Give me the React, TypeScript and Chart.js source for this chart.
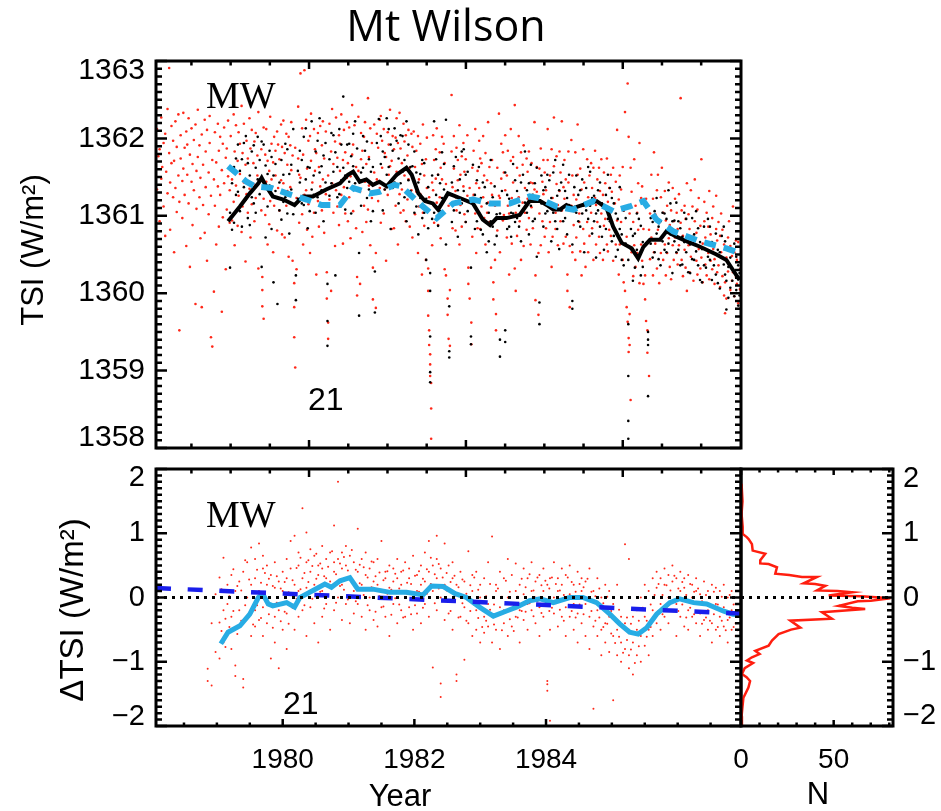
import React, { useEffect, useRef } from 'react';
import { Chart, registerables } from 'chart.js';

Chart.register(...registerables);

// ---------- axis ranges & tick labels ----------
const X_MIN = 1978.075;
const X_MAX = 1986.962;
const TSI_MIN = 1358;
const TSI_MAX = 1363;
const D_MIN = -2;
const D_MAX = 2;
const N_MIN = 0;
const N_MAX = 82;

const yearTicks = [1980, 1982, 1984];
const tsiTicks = [1358, 1359, 1360, 1361, 1362, 1363];
const dTicks = [-2, -1, 0, 1, 2];
const nTicks = [0, 50];
const topPanelXMajor = [1980.4, 1982.783, 1985.166];

// ---------- top panel: running means [year, TSI] ----------
const topBlackLine = [
  [1979.17, 1360.93], [1979.35, 1361.12], [1979.5, 1361.29], [1979.63, 1361.42], [1979.68, 1361.49],
  [1979.75, 1361.38], [1979.85, 1361.25], [1980.01, 1361.21], [1980.18, 1361.14], [1980.31, 1361.25],
  [1980.46, 1361.25], [1980.66, 1361.34], [1980.87, 1361.42], [1980.99, 1361.53], [1981.07, 1361.57],
  [1981.17, 1361.44], [1981.27, 1361.47], [1981.37, 1361.4], [1981.47, 1361.44], [1981.58, 1361.38],
  [1981.73, 1361.53], [1981.88, 1361.62], [1981.96, 1361.53], [1982.06, 1361.29], [1982.16, 1361.19],
  [1982.28, 1361.16], [1982.36, 1361.08], [1982.44, 1361.19], [1982.51, 1361.29], [1982.69, 1361.23],
  [1982.89, 1361.16], [1983.04, 1360.95], [1983.15, 1360.88], [1983.25, 1360.97], [1983.4, 1360.97],
  [1983.6, 1361.01], [1983.75, 1361.19], [1983.91, 1361.19], [1984.01, 1361.14], [1984.11, 1361.08],
  [1984.21, 1361.08], [1984.31, 1361.14], [1984.41, 1361.1], [1984.56, 1361.14], [1984.77, 1361.19],
  [1984.92, 1361.1], [1985.02, 1360.86], [1985.15, 1360.65], [1985.3, 1360.58], [1985.4, 1360.45],
  [1985.48, 1360.6], [1985.58, 1360.69], [1985.73, 1360.69], [1985.83, 1360.8], [1985.98, 1360.73],
  [1986.14, 1360.67], [1986.34, 1360.6], [1986.59, 1360.5], [1986.74, 1360.43], [1986.84, 1360.3],
  [1986.94, 1360.17],
];

const topCyanLine = [
  [1979.17, 1361.64], [1979.27, 1361.57], [1979.45, 1361.44], [1979.58, 1361.38], [1979.83, 1361.36],
  [1980.06, 1361.29], [1980.36, 1361.21], [1980.59, 1361.14], [1980.87, 1361.14], [1981.07, 1361.36],
  [1981.32, 1361.29], [1981.47, 1361.31], [1981.7, 1361.4], [1981.8, 1361.38], [1982.13, 1361.12],
  [1982.34, 1360.97], [1982.59, 1361.16], [1982.89, 1361.21], [1983.15, 1361.16], [1983.45, 1361.16],
  [1983.75, 1361.25], [1983.88, 1361.23], [1984.16, 1361.12], [1984.41, 1361.08], [1984.72, 1361.19],
  [1985.02, 1361.06], [1985.27, 1361.12], [1985.48, 1361.19], [1985.68, 1360.95], [1985.93, 1360.8],
  [1986.34, 1360.67], [1986.74, 1360.58], [1986.94, 1360.52],
];

// ---------- top panel: daily values, rows = [year, values...] ----------
const topRedRows = [
  [1978.09, 1361.34, 1362.12], [1978.11, 1361.77], [1978.13, 1361.86, 1360.93], [1978.155, 1362.27, 1361.48],
  [1978.17, 1361.63], [1978.19, 1361.12, 1361.94], [1978.215, 1362.06, 1360.74], [1978.23, 1361.57],
  [1978.25, 1362.38, 1361.29], [1978.275, 1361.81, 1362.91], [1978.29, 1361.43, 1360.82], [1978.31, 1362.16, 1361.68],
  [1978.335, 1361.24, 1361.97], [1978.35, 1360.53, 1361.71], [1978.37, 1362.22, 1361.36], [1978.39, 1361.89, 1361.05],
  [1978.415, 1361.52, 1362.31], [1978.43, 1359.52, 1361.18], [1978.45, 1361.74, 1362.04], [1978.475, 1360.97, 1361.45],
  [1978.49, 1362.33, 1361.61], [1978.51, 1361.27, 1361.88], [1978.535, 1360.61, 1362.09], [1978.55, 1361.53, 1361.92],
  [1978.57, 1361.16, 1362.26], [1978.59, 1361.79, 1360.34], [1978.615, 1362.13, 1361.44], [1978.63, 1360.88, 1361.67],
  [1978.65, 1361.98, 1361.33], [1978.675, 1359.86, 1362.18], [1978.69, 1361.58, 1361.09], [1978.71, 1362.37, 1361.76],
  [1978.735, 1361.24, 1361.91], [1978.75, 1360.71, 1361.49], [1978.77, 1362.05, 1359.82], [1978.79, 1361.66, 1361.14],
  [1978.815, 1362.24, 1360.78], [1978.83, 1361.37, 1361.83], [1978.85, 1360.42, 1362.11], [1978.875, 1361.56, 1361.02],
  [1978.89, 1361.94, 1362.29], [1978.91, 1359.43, 1361.26], [1978.93, 1359.31, 1361.72], [1978.955, 1360.02, 1361.47],
  [1978.97, 1362.08, 1361.13], [1978.99, 1361.69, 1360.63], [1979.015, 1362.19, 1361.38], [1979.03, 1361.84, 1360.86],
  [1979.05, 1361.27, 1362.02], [1979.075, 1359.76, 1361.59], [1979.09, 1361.93, 1360.98], [1979.11, 1361.42, 1362.14],
  [1979.135, 1361.75, 1360.31], [1979.15, 1361.08, 1361.87], [1979.17, 1362.23, 1361.51], [1979.195, 1361.33, 1360.91],
  [1979.21, 1361.62, 1362.03], [1979.23, 1360.94, 1361.47], [1979.255, 1362.31, 1361.18], [1979.27, 1361.83, 1360.62],
  [1979.29, 1361.39, 1362.17], [1979.315, 1361.71, 1360.87], [1979.33, 1362.08, 1361.26], [1979.35, 1361.54, 1361.93],
  [1979.375, 1360.79, 1362.42], [1979.39, 1361.81, 1361.12], [1979.41, 1362.19, 1361.43], [1979.435, 1360.41, 1361.66],
  [1979.45, 1361.97, 1361.28], [1979.47, 1361.04, 1361.74], [1979.495, 1362.26, 1361.35], [1979.51, 1361.87, 1360.72],
  [1979.53, 1361.15, 1362.11], [1979.555, 1361.68, 1361.41], [1979.57, 1360.93, 1361.96], [1979.59, 1361.23, 1362.07],
  [1979.615, 1361.78, 1361.52], [1979.63, 1362.34, 1360.32], [1979.65, 1361.46, 1362.61], [1979.675, 1361.07, 1361.86],
  [1979.69, 1360.21, 1360.04, 1359.83], [1979.71, 1359.67, 1361.22, 1362.14], [1979.735, 1361.79, 1361.01],
  [1979.75, 1362.12, 1361.44], [1979.77, 1360.63, 1361.71], [1979.795, 1361.58, 1360.89], [1979.81, 1362.28, 1361.19],
  [1979.83, 1361.93, 1361.47], [1979.855, 1360.53, 1361.69], [1979.87, 1361.13, 1362.02], [1979.89, 1361.52, 1361.84],
  [1979.915, 1362.09, 1360.81], [1979.93, 1361.36, 1361.92], [1979.95, 1361.73, 1361.07], [1979.975, 1362.18, 1361.46],
  [1979.99, 1360.76, 1361.89], [1980.01, 1361.42, 1362.23], [1980.03, 1361.81, 1360.72], [1980.055, 1361.13, 1362.06],
  [1980.07, 1361.66, 1361.32], [1980.09, 1362.02, 1360.47], [1980.115, 1361.37, 1361.91], [1980.13, 1361.59, 1362.21],
  [1980.15, 1360.42, 1361.78], [1980.175, 1360.13, 1359.82, 1359.43], [1980.19, 1361.88, 1359.04], [1980.21, 1360.31, 1361.23],
  [1980.235, 1361.74, 1362.41], [1980.25, 1360.91, 1361.53], [1980.27, 1362.84, 1361.49], [1980.295, 1361.02, 1362.13],
  [1980.31, 1361.79, 1360.63], [1980.33, 1362.88, 1361.27], [1980.355, 1361.33, 1362.24], [1980.37, 1360.82, 1361.61],
  [1980.39, 1361.97, 1361.15], [1980.415, 1362.03, 1360.52], [1980.43, 1361.71, 1362.32], [1980.45, 1361.43, 1360.73],
  [1980.475, 1362.12, 1361.04], [1980.49, 1361.58, 1361.86], [1980.51, 1360.24, 1361.81], [1980.535, 1361.19, 1362.07],
  [1980.55, 1361.63, 1360.86], [1980.57, 1362.16, 1361.38], [1980.595, 1361.91, 1361.07], [1980.61, 1361.47, 1362.22],
  [1980.63, 1360.78, 1361.74], [1980.655, 1362.09, 1361.28], [1980.67, 1360.27, 1359.93], [1980.69, 1359.62, 1359.41, 1361.52],
  [1980.71, 1361.21, 1362.19], [1980.735, 1360.03, 1361.83], [1980.75, 1362.38, 1361.42], [1980.77, 1361.04, 1361.67],
  [1980.795, 1361.96, 1360.61], [1980.81, 1361.33, 1362.27], [1980.83, 1361.75, 1361.12], [1980.855, 1362.04, 1360.88],
  [1980.87, 1361.58, 1361.93], [1980.89, 1361.27, 1362.31], [1980.915, 1360.64, 1361.72], [1980.93, 1362.11, 1361.37],
  [1980.95, 1361.82, 1361.03], [1980.975, 1361.49, 1362.21], [1980.99, 1360.93, 1361.68], [1981.01, 1362.14, 1361.24],
  [1981.03, 1361.51, 1360.71], [1981.055, 1362.43, 1361.79], [1981.07, 1361.92, 1361.06], [1981.09, 1361.35, 1362.17],
  [1981.115, 1361.63, 1360.84], [1981.13, 1360.21, 1359.97], [1981.15, 1361.58, 1362.28], [1981.175, 1360.12, 1361.31],
  [1981.19, 1362.07, 1361.73], [1981.21, 1361.84, 1360.79], [1981.235, 1361.13, 1362.02], [1981.25, 1362.21, 1361.44],
  [1981.27, 1361.67, 1360.92], [1981.295, 1362.52, 1361.08], [1981.31, 1361.76, 1361.39], [1981.33, 1360.62, 1362.13],
  [1981.355, 1361.94, 1361.23], [1981.37, 1360.33, 1359.92], [1981.39, 1362.18, 1361.56], [1981.415, 1359.81, 1360.52],
  [1981.43, 1361.47, 1362.06], [1981.45, 1361.88, 1361.19], [1981.475, 1361.36, 1362.24], [1981.49, 1362.29, 1360.91],
  [1981.51, 1361.62, 1361.97], [1981.535, 1361.03, 1362.12], [1981.55, 1361.81, 1361.34], [1981.57, 1360.42, 1361.76],
  [1981.595, 1362.08, 1361.27], [1981.61, 1361.53, 1361.92], [1981.63, 1362.37, 1361.64], [1981.655, 1361.71, 1360.83],
  [1981.67, 1361.46, 1362.03], [1981.69, 1360.84, 1361.86], [1981.715, 1362.01, 1361.13], [1981.73, 1361.57, 1362.26],
  [1981.75, 1361.94, 1360.63], [1981.775, 1361.28, 1362.33], [1981.79, 1361.87, 1361.04], [1981.81, 1361.34, 1361.68],
  [1981.835, 1362.19, 1361.07], [1981.85, 1361.52, 1361.96], [1981.87, 1360.93, 1362.04], [1981.895, 1361.78, 1361.21],
  [1981.91, 1362.11, 1361.47], [1981.93, 1361.62, 1360.86], [1981.955, 1362.06, 1361.33], [1981.97, 1360.72, 1361.89],
  [1981.99, 1361.46, 1362.09], [1982.01, 1361.63, 1361.02], [1982.03, 1361.31, 1361.84], [1982.055, 1362.03, 1360.52],
  [1982.07, 1361.47, 1361.12], [1982.09, 1361.28, 1361.93], [1982.115, 1360.24, 1361.67], [1982.13, 1361.04, 1362.18],
  [1982.15, 1361.52, 1360.87], [1982.175, 1360.43, 1361.73], [1982.19, 1361.36, 1362.01], [1982.21, 1360.32, 1360.03, 1359.71],
  [1982.225, 1359.52, 1359.33, 1361.24], [1982.24, 1359.21, 1359.08, 1358.93], [1982.255, 1358.84, 1358.51, 1358.12],
  [1982.27, 1360.62, 1361.43], [1982.285, 1362.04, 1361.33], [1982.3, 1361.72, 1360.91], [1982.325, 1361.48, 1361.86],
  [1982.34, 1362.13, 1361.17], [1982.36, 1360.88, 1361.53], [1982.385, 1361.24, 1361.82], [1982.4, 1360.71, 1361.62],
  [1982.42, 1362.02, 1361.47], [1982.445, 1361.93, 1361.03], [1982.46, 1360.31, 1361.68], [1982.48, 1360.23, 1361.41],
  [1982.505, 1359.93, 1359.72], [1982.52, 1359.41, 1361.13], [1982.54, 1359.32, 1360.04], [1982.565, 1361.83, 1362.56],
  [1982.58, 1361.37, 1360.84], [1982.6, 1361.61, 1362.03], [1982.625, 1361.32, 1360.81], [1982.64, 1361.88, 1361.07],
  [1982.66, 1361.46, 1361.72], [1982.685, 1362.17, 1360.63], [1982.7, 1361.53, 1361.14], [1982.72, 1360.86, 1361.77],
  [1982.745, 1361.38, 1361.94], [1982.76, 1361.02, 1361.57], [1982.78, 1360.92, 1361.73], [1982.805, 1362.04, 1361.26],
  [1982.82, 1360.33, 1360.12], [1982.84, 1359.93, 1361.36], [1982.865, 1359.62, 1359.34], [1982.88, 1360.73, 1361.62],
  [1982.9, 1361.27, 1361.84], [1982.925, 1362.12, 1361.03], [1982.94, 1361.42, 1360.52], [1982.96, 1360.84, 1361.58],
  [1982.985, 1361.36, 1361.97], [1983.0, 1361.74, 1360.83], [1983.02, 1361.12, 1361.68], [1983.045, 1362.03, 1361.24],
  [1983.06, 1361.52, 1360.97], [1983.08, 1360.63, 1361.81], [1983.105, 1361.04, 1361.46], [1983.12, 1362.21, 1361.17],
  [1983.14, 1360.92, 1361.63], [1983.165, 1360.33, 1361.42], [1983.18, 1361.27, 1361.72], [1983.2, 1360.14, 1359.92],
  [1983.225, 1361.13, 1360.43], [1983.24, 1359.73, 1359.52], [1983.26, 1361.62, 1360.81], [1983.285, 1362.32, 1361.26],
  [1983.3, 1361.23, 1360.53], [1983.32, 1361.48, 1361.93], [1983.345, 1361.82, 1360.94], [1983.36, 1361.01, 1361.56],
  [1983.38, 1362.04, 1361.33], [1983.405, 1360.72, 1361.52], [1983.42, 1361.13, 1361.84], [1983.44, 1361.03, 1360.24],
  [1983.465, 1361.71, 1362.12], [1983.48, 1360.64, 1361.23], [1983.5, 1361.43, 1361.76], [1983.525, 1362.43, 1360.32],
  [1983.54, 1360.03, 1361.04], [1983.56, 1361.62, 1360.74], [1983.585, 1362.03, 1361.24], [1983.6, 1360.93, 1361.52],
  [1983.62, 1361.82, 1360.43], [1983.645, 1361.17, 1361.66], [1983.66, 1360.61, 1361.91], [1983.68, 1361.36, 1361.04],
  [1983.705, 1361.74, 1360.82], [1983.72, 1361.22, 1361.57], [1983.74, 1360.97, 1361.83], [1983.765, 1361.43, 1360.63],
  [1983.78, 1361.68, 1361.11], [1983.8, 1360.84, 1361.42], [1983.825, 1362.21, 1361.34], [1983.84, 1360.23, 1359.91],
  [1983.86, 1361.31, 1361.63], [1983.885, 1359.72, 1360.52], [1983.9, 1361.03, 1361.61], [1983.92, 1360.62, 1361.87],
  [1983.945, 1361.44, 1360.93], [1983.96, 1361.28, 1361.72], [1983.98, 1360.73, 1361.56], [1984.0, 1361.33, 1360.84],
  [1984.025, 1361.72, 1362.12], [1984.04, 1360.53, 1361.13], [1984.06, 1361.52, 1360.92], [1984.085, 1361.86, 1360.34],
  [1984.1, 1361.23, 1360.73], [1984.12, 1361.64, 1362.27], [1984.145, 1360.83, 1361.04], [1984.16, 1361.41, 1361.77],
  [1984.18, 1361.14, 1360.62], [1984.205, 1361.83, 1361.32], [1984.22, 1360.93, 1361.56], [1984.24, 1362.22, 1361.07],
  [1984.265, 1361.37, 1360.64], [1984.28, 1361.72, 1361.22], [1984.3, 1360.73, 1361.47], [1984.325, 1360.24, 1360.03],
  [1984.34, 1361.43, 1361.83], [1984.36, 1359.82, 1360.61], [1984.385, 1361.13, 1361.98], [1984.4, 1360.53, 1361.52],
  [1984.42, 1361.27, 1360.88], [1984.445, 1361.82, 1360.43], [1984.46, 1360.72, 1361.21], [1984.48, 1362.18, 1361.53],
  [1984.505, 1360.92, 1361.03], [1984.52, 1361.61, 1360.54], [1984.54, 1360.23, 1361.34], [1984.565, 1361.86, 1360.83],
  [1984.58, 1360.64, 1361.43], [1984.6, 1361.14, 1360.34], [1984.625, 1361.73, 1360.92], [1984.64, 1360.53, 1361.24],
  [1984.66, 1361.52, 1360.74], [1984.685, 1361.04, 1361.68], [1984.7, 1360.84, 1361.36], [1984.72, 1361.62, 1360.43],
  [1984.745, 1361.23, 1361.84], [1984.76, 1360.63, 1361.14], [1984.78, 1361.47, 1360.92], [1984.805, 1360.73, 1361.62],
  [1984.82, 1361.32, 1360.52], [1984.84, 1361.03, 1361.73], [1984.865, 1360.43, 1361.27], [1984.88, 1361.56, 1360.87],
  [1984.9, 1360.96, 1361.42], [1984.925, 1361.74, 1360.63], [1984.94, 1360.54, 1361.18], [1984.96, 1361.36, 1360.82],
  [1984.985, 1360.74, 1361.53], [1985.0, 1360.93, 1361.31], [1985.02, 1361.62, 1360.42], [1985.045, 1360.82, 1361.16],
  [1985.06, 1361.44, 1360.63], [1985.08, 1362.11, 1360.94], [1985.105, 1361.21, 1360.24], [1985.12, 1360.63, 1361.52],
  [1985.14, 1360.92, 1361.34], [1985.165, 1361.63, 1360.43], [1985.18, 1360.14, 1361.07], [1985.2, 1362.34, 1360.03],
  [1985.225, 1359.82, 1360.73], [1985.24, 1362.71, 1359.63], [1985.255, 1362.02, 1359.42, 1359.24],
  [1985.27, 1359.33, 1359.73, 1361.03], [1985.285, 1361.62, 1358.62], [1985.3, 1360.53, 1361.31], [1985.325, 1360.92, 1360.22],
  [1985.34, 1361.73, 1360.62], [1985.36, 1360.34, 1361.13], [1985.385, 1361.04, 1360.52], [1985.4, 1360.82, 1361.42],
  [1985.42, 1361.94, 1360.13], [1985.445, 1360.63, 1361.23], [1985.46, 1361.38, 1360.42], [1985.48, 1360.12, 1360.83],
  [1985.505, 1360.23, 1359.92], [1985.52, 1359.64, 1361.22], [1985.54, 1359.52, 1359.23], [1985.565, 1358.93, 1360.82],
  [1985.58, 1361.03, 1360.44], [1985.6, 1360.72, 1361.53], [1985.625, 1361.22, 1360.23], [1985.64, 1360.53, 1361.82],
  [1985.66, 1361.02, 1360.64], [1985.685, 1360.32, 1361.33], [1985.7, 1361.53, 1360.82], [1985.72, 1360.91, 1360.13],
  [1985.745, 1361.24, 1360.52], [1985.76, 1360.72, 1361.62], [1985.78, 1360.43, 1361.04], [1985.805, 1361.32, 1360.63],
  [1985.82, 1360.23, 1360.94], [1985.84, 1361.13, 1360.52], [1985.865, 1360.71, 1361.43], [1985.88, 1360.34, 1360.88],
  [1985.9, 1361.07, 1360.18], [1985.925, 1360.62, 1361.36], [1985.94, 1360.93, 1360.43], [1985.96, 1361.22, 1360.72],
  [1985.985, 1360.52, 1361.04], [1986.0, 1360.83, 1360.37], [1986.02, 1361.28, 1360.62], [1986.045, 1362.52, 1360.91],
  [1986.06, 1360.43, 1361.07], [1986.08, 1360.74, 1360.22], [1986.105, 1361.13, 1360.56], [1986.12, 1360.33, 1360.96],
  [1986.14, 1361.42, 1360.03], [1986.165, 1360.62, 1361.02], [1986.18, 1360.27, 1360.83], [1986.2, 1361.33, 1360.47],
  [1986.225, 1360.73, 1361.12], [1986.24, 1360.16, 1360.64], [1986.26, 1360.93, 1361.47], [1986.285, 1360.42, 1360.78],
  [1986.3, 1361.08, 1360.24], [1986.32, 1360.57, 1361.23], [1986.345, 1360.32, 1360.87], [1986.36, 1361.73, 1360.46],
  [1986.38, 1360.64, 1360.14], [1986.405, 1360.93, 1361.18], [1986.42, 1360.37, 1360.72], [1986.44, 1361.04, 1360.23],
  [1986.465, 1360.52, 1360.86], [1986.48, 1360.18, 1361.32], [1986.5, 1360.76, 1360.42], [1986.525, 1360.31, 1360.97],
  [1986.54, 1361.12, 1360.57], [1986.56, 1360.44, 1360.12], [1986.585, 1360.83, 1361.26], [1986.6, 1360.27, 1360.68],
  [1986.62, 1360.92, 1360.36], [1986.645, 1360.08, 1360.74], [1986.66, 1360.53, 1361.03], [1986.68, 1360.22, 1360.82],
  [1986.705, 1360.63, 1359.97], [1986.72, 1360.14, 1359.74], [1986.74, 1359.93, 1360.46], [1986.765, 1360.72, 1360.28],
  [1986.78, 1360.37, 1360.93], [1986.8, 1360.04, 1360.61], [1986.825, 1360.48, 1360.16], [1986.84, 1360.27, 1361.12],
  [1986.86, 1359.96, 1360.53], [1986.885, 1360.68, 1360.21], [1986.9, 1360.12, 1360.43], [1986.92, 1359.87, 1360.66],
  [1986.945, 1360.31, 1360.05],
];

const topBlackRows = [
  [1979.2, 1360.33, 1361.04], [1979.23, 1361.42, 1360.82], [1979.26, 1360.91, 1361.63], [1979.29, 1361.27, 1361.74],
  [1979.32, 1361.92, 1361.31], [1979.35, 1361.06, 1361.58], [1979.38, 1361.73, 1360.86], [1979.41, 1361.94, 1361.37],
  [1979.44, 1361.21, 1362.03], [1979.47, 1361.68, 1360.97], [1979.5, 1361.52, 1360.88], [1979.53, 1361.24, 1361.83],
  [1979.56, 1361.91, 1361.16], [1979.59, 1361.04, 1361.62], [1979.62, 1361.47, 1362.02], [1979.65, 1361.72, 1361.28],
  [1979.68, 1361.96, 1360.34], [1979.71, 1361.44, 1361.92], [1979.74, 1361.65, 1360.72], [1979.77, 1361.12, 1361.54],
  [1979.8, 1361.39, 1361.84], [1979.83, 1361.76, 1360.83], [1979.86, 1360.14, 1361.52], [1979.89, 1361.32, 1361.67],
  [1979.92, 1359.86, 1361.23], [1979.95, 1361.07, 1361.43], [1979.98, 1361.72, 1360.95], [1980.01, 1361.53, 1361.18],
  [1980.04, 1361.24, 1361.93], [1980.07, 1361.86, 1361.03], [1980.1, 1361.54, 1360.77], [1980.13, 1361.34, 1361.66],
  [1980.16, 1361.02, 1362.12], [1980.2, 1360.23, 1359.91], [1980.23, 1361.58, 1361.22], [1980.26, 1361.43, 1361.84],
  [1980.29, 1361.16, 1361.72], [1980.32, 1362.02, 1361.14], [1980.35, 1361.47, 1362.13], [1980.38, 1361.63, 1360.84],
  [1980.41, 1361.06, 1361.62], [1980.44, 1361.34, 1362.22], [1980.47, 1361.52, 1361.27], [1980.5, 1361.83, 1361.04],
  [1980.53, 1361.24, 1361.97], [1980.56, 1361.56, 1362.26], [1980.59, 1361.64, 1361.33], [1980.62, 1360.93, 1361.78],
  [1980.65, 1361.43, 1361.94], [1980.68, 1360.12, 1359.64, 1359.32], [1980.71, 1361.26, 1361.73], [1980.74, 1361.42, 1362.07],
  [1980.77, 1361.57, 1362.04], [1980.8, 1361.82, 1360.23], [1980.83, 1361.63, 1361.24], [1980.86, 1361.28, 1362.12],
  [1980.89, 1361.92, 1361.46], [1980.92, 1362.54, 1361.62], [1980.95, 1361.52, 1361.08], [1980.98, 1361.36, 1361.92],
  [1981.01, 1361.93, 1361.44], [1981.04, 1361.77, 1361.03], [1981.07, 1361.64, 1362.06], [1981.1, 1362.22, 1361.42],
  [1981.13, 1361.33, 1361.87], [1981.16, 1359.71, 1360.52], [1981.19, 1361.56, 1361.13], [1981.22, 1361.62, 1362.03],
  [1981.25, 1361.84, 1361.47], [1981.28, 1361.23, 1361.96], [1981.31, 1361.34, 1361.73], [1981.34, 1361.57, 1360.93],
  [1981.37, 1361.63, 1361.06], [1981.4, 1360.28, 1359.75], [1981.43, 1361.43, 1361.94], [1981.46, 1362.25, 1361.32],
  [1981.49, 1361.67, 1362.03], [1981.52, 1361.83, 1361.07], [1981.55, 1361.34, 1361.76], [1981.58, 1362.26, 1361.53],
  [1981.61, 1361.63, 1362.12], [1981.64, 1360.83, 1361.92], [1981.67, 1361.36, 1361.84], [1981.7, 1361.43, 1362.13],
  [1981.73, 1361.97, 1361.52], [1981.76, 1361.74, 1361.16], [1981.79, 1361.42, 1362.04], [1981.82, 1362.03, 1361.57],
  [1981.85, 1361.72, 1361.24], [1981.88, 1362.22, 1360.93], [1981.91, 1361.92, 1361.46], [1981.94, 1361.63, 1361.32],
  [1981.97, 1361.27, 1361.64], [1982.0, 1361.04, 1361.83], [1982.03, 1361.56, 1361.12], [1982.06, 1361.43, 1360.76],
  [1982.09, 1361.23, 1361.54], [1982.12, 1360.97, 1361.72], [1982.15, 1361.04, 1361.68], [1982.18, 1361.22, 1360.43],
  [1982.21, 1361.37, 1360.84], [1982.24, 1360.26, 1360.03, 1359.44, 1358.98, 1358.85], [1982.27, 1361.52, 1360.96],
  [1982.3, 1362.22, 1361.04], [1982.33, 1361.27, 1361.73], [1982.36, 1361.53, 1360.87], [1982.39, 1361.06, 1361.42],
  [1982.42, 1361.82, 1361.23], [1982.45, 1361.34, 1361.67], [1982.48, 1362.24, 1360.63], [1982.53, 1359.83, 1359.25, 1359.17],
  [1982.57, 1361.43, 1360.92], [1982.6, 1361.07, 1361.64], [1982.63, 1361.24, 1361.76], [1982.66, 1361.33, 1360.73],
  [1982.69, 1361.04, 1361.47], [1982.72, 1361.83, 1361.16], [1982.75, 1361.32, 1361.86], [1982.78, 1360.92, 1361.53],
  [1982.81, 1361.06, 1361.57], [1982.86, 1359.44, 1359.34, 1360.33], [1982.89, 1361.23, 1361.66], [1982.92, 1361.27, 1360.83],
  [1982.95, 1360.93, 1361.46], [1982.98, 1361.63, 1361.04], [1983.01, 1361.23, 1360.82], [1983.04, 1360.76, 1361.43],
  [1983.07, 1360.93, 1361.37], [1983.1, 1361.16, 1360.53], [1983.13, 1361.04, 1360.67], [1983.16, 1361.72, 1360.93],
  [1983.19, 1360.86, 1361.24], [1983.22, 1360.63, 1361.38], [1983.25, 1361.02, 1360.74], [1983.3, 1359.4, 1359.18, 1361.03],
  [1983.33, 1360.96, 1361.32], [1983.38, 1359.52, 1359.37, 1361.56], [1983.41, 1360.83, 1361.27], [1983.44, 1361.22, 1360.86],
  [1983.47, 1361.04, 1360.73], [1983.5, 1361.67, 1361.03], [1983.53, 1360.92, 1361.46], [1983.56, 1360.97, 1361.32],
  [1983.59, 1361.13, 1360.86], [1983.62, 1361.43, 1360.67], [1983.65, 1361.06, 1361.53], [1983.68, 1361.83, 1361.17],
  [1983.71, 1361.33, 1361.04], [1983.74, 1360.76, 1361.42], [1983.77, 1361.13, 1361.66], [1983.8, 1361.27, 1360.93],
  [1983.83, 1361.42, 1360.96], [1983.86, 1361.62, 1360.47], [1983.9, 1359.88, 1359.6], [1983.93, 1361.16, 1361.52],
  [1983.96, 1361.33, 1360.86], [1983.99, 1361.37, 1361.03], [1984.02, 1361.06, 1361.53], [1984.05, 1361.13, 1361.46],
  [1984.08, 1360.67, 1361.23], [1984.11, 1361.04, 1361.56], [1984.14, 1361.72, 1360.93], [1984.17, 1361.26, 1360.83],
  [1984.2, 1361.33, 1360.57], [1984.23, 1361.07, 1361.43], [1984.26, 1360.93, 1361.66], [1984.29, 1361.32, 1360.97],
  [1984.32, 1361.23, 1360.76], [1984.35, 1361.14, 1361.53], [1984.4, 1359.8, 1359.9, 1360.63], [1984.43, 1361.06, 1361.37],
  [1984.46, 1361.52, 1361.04], [1984.49, 1361.27, 1360.93], [1984.52, 1360.86, 1361.33], [1984.55, 1361.03, 1361.47],
  [1984.58, 1361.16, 1360.53], [1984.61, 1361.36, 1361.07], [1984.64, 1361.63, 1360.96], [1984.67, 1361.13, 1361.57],
  [1984.7, 1360.77, 1361.23], [1984.73, 1361.26, 1360.93], [1984.76, 1361.03, 1360.46], [1984.79, 1361.07, 1361.33],
  [1984.82, 1361.43, 1360.86], [1984.85, 1361.16, 1360.73], [1984.88, 1360.56, 1361.13], [1984.91, 1361.27, 1360.83],
  [1984.94, 1360.96, 1361.53], [1984.97, 1360.93, 1361.36], [1985.0, 1360.67, 1361.23], [1985.03, 1360.74, 1361.16],
  [1985.06, 1361.03, 1360.47], [1985.09, 1360.56, 1360.96], [1985.12, 1360.83, 1361.37], [1985.15, 1360.76, 1360.43],
  [1985.18, 1360.36, 1361.07], [1985.21, 1360.64, 1360.97], [1985.25, 1359.6, 1358.93, 1358.35, 1358.12, 1360.43],
  [1985.29, 1360.57, 1360.83], [1985.32, 1360.16, 1360.74], [1985.35, 1360.33, 1360.77], [1985.38, 1360.56, 1361.03],
  [1985.41, 1360.47, 1360.96], [1985.44, 1360.23, 1360.87], [1985.47, 1360.66, 1360.34], [1985.5, 1360.62, 1361.14],
  [1985.55, 1359.5, 1359.4, 1359.33, 1358.67], [1985.59, 1360.64, 1360.97], [1985.62, 1360.46, 1360.92],
  [1985.65, 1360.53, 1361.06], [1985.68, 1360.77, 1361.23], [1985.71, 1360.86, 1360.44], [1985.74, 1360.36, 1360.93],
  [1985.77, 1360.67, 1361.04], [1985.8, 1361.03, 1360.56], [1985.83, 1360.96, 1360.53], [1985.86, 1360.64, 1361.33],
  [1985.89, 1360.76, 1361.16], [1985.92, 1360.93, 1360.26], [1985.95, 1360.67, 1360.94], [1985.98, 1360.53, 1361.17],
  [1986.01, 1360.56, 1360.93], [1986.04, 1360.84, 1360.36], [1986.07, 1360.73, 1360.37], [1986.1, 1360.66, 1361.04],
  [1986.13, 1360.53, 1360.96], [1986.16, 1360.27, 1360.74], [1986.19, 1360.63, 1360.26], [1986.22, 1360.97, 1360.44],
  [1986.25, 1360.76, 1360.43], [1986.28, 1360.54, 1361.06], [1986.31, 1360.36, 1360.84], [1986.34, 1360.17, 1360.66],
  [1986.37, 1360.57, 1360.14], [1986.4, 1360.86, 1360.36], [1986.43, 1360.64, 1360.33], [1986.46, 1360.47, 1360.96],
  [1986.49, 1360.43, 1360.86], [1986.52, 1360.66, 1360.17], [1986.55, 1360.36, 1360.63], [1986.58, 1360.24, 1360.77],
  [1986.61, 1360.56, 1360.13], [1986.64, 1360.53, 1360.06], [1986.67, 1360.46, 1360.74], [1986.7, 1360.37, 1360.86],
  [1986.72, 1360.24, 1360.67], [1986.74, 1359.79, 1360.16], [1986.77, 1360.34, 1359.94], [1986.8, 1360.46, 1360.07],
  [1986.83, 1360.16, 1360.56], [1986.86, 1360.27, 1359.96, 1360.64], [1986.89, 1360.04, 1360.47], [1986.92, 1359.84, 1360.36],
  [1986.94, 1360.26, 1359.97],
];

// ---------- bottom panel: residuals [year, dTSI] ----------
const bottomCyanLine = [
  [1979.06, -0.72], [1979.17, -0.54], [1979.35, -0.44], [1979.5, -0.26], [1979.63, 0.0], [1979.7, 0.05],
  [1979.78, -0.1], [1979.85, -0.13], [1980.06, -0.08], [1980.18, -0.15], [1980.26, 0.0], [1980.46, 0.11],
  [1980.64, 0.21], [1980.74, 0.16], [1980.87, 0.26], [1981.02, 0.31], [1981.14, 0.13], [1981.37, 0.13],
  [1981.63, 0.08], [1981.88, 0.08], [1982.13, 0.04], [1982.26, 0.18], [1982.44, 0.17], [1982.62, 0.06],
  [1982.79, 0.0], [1982.99, -0.15], [1983.2, -0.29], [1983.4, -0.21], [1983.55, -0.15], [1983.75, -0.05],
  [1983.91, -0.02], [1984.11, -0.08], [1984.36, 0.0], [1984.56, 0.0], [1984.77, -0.08], [1984.97, -0.26],
  [1985.12, -0.41], [1985.27, -0.54], [1985.4, -0.57], [1985.53, -0.47], [1985.68, -0.26], [1985.88, -0.08],
  [1986.03, -0.02], [1986.24, -0.08], [1986.44, -0.1], [1986.69, -0.21], [1986.84, -0.26], [1986.95, -0.27],
];

const bottomTrend = [[1978.075, 0.148], [1986.962, -0.25]];
const zeroLineYears = [1978.075, 1986.962];
const zeroLineN = [0, 82];

const bottomRedRows = [
  [1978.86, -1.11, -1.3], [1978.92, -1.37, -0.4], [1978.98, -0.85, 0.05], [1979.04, -0.39, 0.31, -0.95],
  [1979.1, -0.2, 0.62, -0.7], [1979.16, -0.55, -0.1, 0.2], [1979.22, 0.35, -0.3, -0.8], [1979.28, -1.06, -1.22, 0.1],
  [1979.34, -0.45, 0.25, -0.2], [1979.4, -1.27, -1.4, 0.4], [1979.46, 0.55, -0.3, 0.0], [1979.52, 0.78, -0.6, 0.2],
  [1979.58, 0.3, -0.2, 0.6, -0.45], [1979.64, 0.84, 0.1, -0.35], [1979.7, 0.45, -0.15, 0.65, -0.6],
  [1979.76, 0.2, -0.4, 0.5], [1979.82, -0.95, 0.35, -0.1], [1979.88, 0.55, -0.3, 0.15, -0.7],
  [1979.94, -1.1, 0.25, -0.2], [1980.0, 0.4, -0.5, 0.1], [1980.06, 0.6, -0.25, 0.3, -0.8], [1980.12, 0.88, -0.1, 0.45],
  [1980.18, 0.96, 0.2, -0.5], [1980.24, 0.5, -0.3, 0.1, 0.7], [1980.3, 1.39, 0.3, -0.2], [1980.36, 1.01, 0.55, -0.6, 0.15],
  [1980.42, 0.4, -0.15, 0.75], [1980.48, 0.65, 0.2, -0.4], [1980.54, 0.35, -0.7, 0.5], [1980.6, 0.8, 0.1, 0.45, -0.3],
  [1980.66, 0.6, -0.1, 0.3], [1980.72, 0.25, 0.7, -0.5], [1980.78, 1.12, 0.4, -0.2, 0.55], [1980.84, 1.8, 0.6, 0.0],
  [1980.9, 0.7, 0.2, -0.35, 0.45], [1980.96, 0.5, -0.1, 0.8], [1981.02, 0.3, 0.65, -0.4], [1981.08, 0.1, 0.55, -0.25],
  [1981.14, 1.07, 0.4, -0.1], [1981.2, 0.6, -0.3, 0.2], [1981.26, 0.35, -0.5, 0.7], [1981.32, 0.0, 0.45, -0.2],
  [1981.38, 0.55, -0.35, 0.25], [1981.44, 0.2, 0.6, -0.45], [1981.5, 0.88, 0.1, -0.15], [1981.56, 0.4, -0.3, 0.3],
  [1981.62, 0.15, -0.6, 0.5], [1981.68, 0.45, -0.1, 0.25], [1981.74, 0.3, -0.4, 0.6], [1981.8, -0.2, 0.2, 0.4],
  [1981.86, 0.55, -0.3, 0.1], [1981.92, 0.3, -0.15, 0.45], [1981.98, 0.65, 0.0, -0.5], [1982.04, -0.25, 0.35, 0.1],
  [1982.1, 0.5, -0.4, 0.2], [1982.16, 0.7, 0.25, -0.1], [1982.22, 0.88, 0.4, -0.3], [1982.28, -1.09, 0.5, 0.1],
  [1982.34, 0.96, 0.3, -0.2, 0.6], [1982.4, -1.34, -1.55, 0.45, 0.0], [1982.46, 0.84, 0.2, -0.35],
  [1982.52, 0.5, -0.25, 0.1], [1982.58, 0.3, -0.5, 0.55], [1982.64, -1.3, -1.2, 0.2], [1982.7, 0.4, -0.3, 0.05],
  [1982.76, -0.97, 0.25, -0.15], [1982.82, 0.72, 0.0, -0.4], [1982.88, 0.1, -0.6, 0.35], [1982.94, 0.4, -0.2, -0.5],
  [1983.0, 0.0, -0.7, 0.2], [1983.06, -0.3, 0.3, -0.55], [1983.12, 0.55, -0.45, -0.1], [1983.18, 0.95, -0.3, -0.7],
  [1983.24, 0.2, -0.5, 0.1], [1983.3, -0.15, -0.8, 0.4], [1983.36, 0.3, -0.4, -0.2], [1983.42, 0.6, 0.0, -0.6],
  [1983.48, -0.1, 0.35, -0.45], [1983.54, 0.53, -0.3, 0.1], [1983.6, 0.2, -0.2, -0.7], [1983.66, 0.45, 0.05, -0.35],
  [1983.72, -0.1, 0.3, -0.5], [1983.78, 0.55, -0.2, 0.1], [1983.84, 0.25, -0.4, 0.0], [1983.9, -0.6, 0.35, -0.15],
  [1983.96, 0.45, -0.3, 0.1], [1984.02, -1.3, -1.35, -1.45, 0.2], [1984.06, -1.92, 0.3, -0.5],
  [1984.12, 0.55, 0.0, -0.25], [1984.18, 0.3, -0.45, 0.1], [1984.24, 0.2, -0.3, 0.45], [1984.3, -0.15, 0.35, -0.6],
  [1984.36, 0.5, 0.05, -0.3], [1984.42, 0.2, -0.5, -0.1], [1984.48, -0.25, 0.4, -0.7], [1984.54, 0.3, -0.4, 0.1],
  [1984.6, -0.1, -0.6, 0.25], [1984.66, 0.45, -0.3, -0.8], [1984.72, -1.73, 0.1, -0.45], [1984.78, -0.2, -0.6, 0.3],
  [1984.84, -0.5, 0.0, -0.9], [1984.9, 0.2, -0.4, -0.7], [1984.96, -0.3, -0.85, 0.1], [1985.02, -1.6, -0.6, -0.1],
  [1985.08, -0.5, -0.9, 0.2], [1985.14, -0.3, -1.0, -0.7], [1985.2, 0.83, -0.8, -0.4], [1985.26, 0.6, -1.1, -0.5, -0.9],
  [1985.32, -0.7, -0.3, -1.2], [1985.38, -0.9, -0.5, -0.2], [1985.44, -0.6, -1.0, 0.0], [1985.5, -0.3, -0.75, 0.2],
  [1985.56, -0.5, 0.1, -0.9], [1985.62, -0.2, 0.3, -0.6], [1985.68, 0.15, -0.4, 0.4], [1985.74, -0.1, 0.3, -0.5],
  [1985.8, 0.2, -0.3, 0.45], [1985.86, 0.0, 0.35, -0.4], [1985.92, 0.25, -0.2, 0.5], [1985.98, -0.1, 0.3, -0.6],
  [1986.04, 0.4, -0.3, 0.1], [1986.1, 0.15, -0.45, 0.3], [1986.16, -0.2, 0.35, -0.5], [1986.22, 0.2, -0.3, 0.0],
  [1986.28, -0.4, 0.1, 0.3], [1986.34, 0.05, -0.25, -0.6], [1986.4, 0.25, -0.35, -0.1], [1986.46, -0.5, 0.1, -0.2],
  [1986.52, 0.2, -0.4, -0.7], [1986.58, -0.1, -0.5, 0.15], [1986.64, -0.3, 0.1, -0.6], [1986.7, -0.15, -0.45, 0.2],
  [1986.76, -0.35, 0.0, -0.7], [1986.82, -0.2, -0.5, 0.1], [1986.88, -0.4, -0.1, -0.6], [1986.94, -0.3, 0.0],
  [1979.07, -0.52, 0.13], [1979.13, -0.33, -0.77], [1979.19, 0.02, -0.46], [1979.25, -0.21, 0.44], [1979.31, -0.57, 0.18],
  [1979.37, 0.11, -0.36], [1979.43, -0.12, 0.58], [1979.49, 0.28, -0.27], [1979.55, 0.07, -0.42], [1979.61, 0.43, -0.12],
  [1979.67, 0.23, -0.32], [1979.73, -0.03, 0.38], [1979.79, -0.26, 0.29], [1979.85, 0.18, -0.47], [1979.91, -0.08, 0.33],
  [1979.97, 0.14, -0.37], [1980.03, -0.22, 0.24], [1980.09, 0.08, -0.41], [1980.15, 0.27, -0.16], [1980.21, 0.46, -0.02],
  [1980.27, 0.13, 0.62], [1980.33, 0.38, -0.12], [1980.39, 0.24, 0.58], [1980.45, -0.02, 0.49], [1980.51, 0.29, 0.68],
  [1980.57, 0.09, 0.53], [1980.63, 0.33, -0.17], [1980.69, 0.48, 0.04], [1980.75, 0.19, 0.72], [1980.81, 0.36, -0.08],
  [1980.87, 0.53, 0.18], [1980.93, 0.12, 0.63], [1980.99, 0.42, -0.03], [1981.05, 0.26, 0.74], [1981.11, 0.43, -0.06],
  [1981.17, 0.22, 0.51], [1981.23, 0.04, 0.47], [1981.29, 0.31, -0.12], [1981.35, 0.16, 0.56], [1981.41, 0.33, -0.22],
  [1981.47, 0.02, 0.39], [1981.53, 0.27, -0.14], [1981.59, 0.41, 0.06], [1981.65, 0.12, -0.27], [1981.71, 0.37, -0.01],
  [1981.77, 0.14, -0.11], [1981.83, 0.42, -0.31], [1981.89, 0.06, 0.23], [1981.95, 0.21, -0.26], [1982.01, 0.34, -0.12],
  [1982.07, 0.09, 0.41], [1982.13, -0.16, 0.29], [1982.19, 0.44, 0.06], [1982.25, 0.21, 0.62], [1982.31, 0.36, -0.09],
  [1982.37, 0.14, 0.52], [1982.43, 0.31, -0.06], [1982.49, 0.11, 0.38], [1982.55, 0.24, -0.21], [1982.61, 0.02, 0.34],
  [1982.67, 0.16, -0.31], [1982.73, -0.09, 0.28], [1982.79, 0.06, -0.36], [1982.85, -0.21, 0.19], [1982.91, -0.11, 0.31],
  [1982.97, -0.32, 0.12], [1983.03, -0.08, -0.46], [1983.09, -0.36, 0.02], [1983.15, -0.19, 0.21], [1983.21, -0.42, -0.11],
  [1983.27, -0.26, 0.14], [1983.33, -0.51, 0.01], [1983.39, -0.22, 0.26], [1983.45, -0.34, 0.09], [1983.51, -0.12, -0.52],
  [1983.57, 0.01, -0.31], [1983.63, -0.21, 0.29], [1983.69, 0.16, -0.22], [1983.75, -0.09, 0.36], [1983.81, 0.11, -0.29],
  [1983.87, -0.06, 0.31], [1983.93, 0.19, -0.24], [1983.99, -0.11, 0.26], [1984.05, 0.14, -0.21], [1984.09, -0.16, 0.31],
  [1984.15, 0.21, -0.09], [1984.21, -0.19, 0.11], [1984.27, 0.04, -0.36], [1984.33, 0.31, 0.01], [1984.39, -0.21, 0.24],
  [1984.45, 0.09, -0.31], [1984.51, -0.11, 0.21], [1984.57, 0.16, -0.26], [1984.63, -0.04, 0.29], [1984.69, -0.21, 0.09],
  [1984.75, 0.02, -0.36], [1984.81, -0.31, 0.14], [1984.87, -0.09, -0.46], [1984.93, -0.41, 0.01], [1984.99, -0.21, -0.56],
  [1985.05, -0.36, -0.71], [1985.11, -0.61, -0.19], [1985.17, -0.46, -0.86], [1985.23, -0.31, -0.66], [1985.29, -0.81, -0.41],
  [1985.35, -0.56, -1.02], [1985.41, -0.36, -0.76], [1985.47, -0.51, -0.16], [1985.53, -0.36, -0.61], [1985.59, -0.11, -0.46],
  [1985.65, -0.31, 0.04], [1985.71, -0.21, 0.21], [1985.77, 0.04, -0.26], [1985.83, -0.16, 0.19], [1985.89, 0.11, -0.21],
  [1985.95, -0.06, 0.34], [1986.01, 0.14, -0.21], [1986.07, -0.11, 0.24], [1986.13, 0.04, -0.31], [1986.19, -0.16, 0.21],
  [1986.25, 0.09, -0.26], [1986.31, -0.21, 0.14], [1986.37, -0.06, -0.41], [1986.43, -0.31, 0.04], [1986.49, 0.01, -0.36],
  [1986.55, -0.26, 0.09], [1986.61, -0.11, -0.46], [1986.67, -0.36, 0.01], [1986.73, -0.21, -0.51], [1986.79, -0.31, 0.04],
  [1986.85, -0.46, -0.11], [1986.91, -0.21, -0.51],
];

// ---------- histogram [N, dTSI] ----------
const histProfile = [
  [0.3, 1.77], [0.8, 1.5], [0.3, 1.3], [0.9, 1.1], [0.9, 0.99], [3.1, 0.94], [4.1, 0.91], [5.9, 0.83],
  [6.3, 0.73], [13.1, 0.68], [10.4, 0.58], [10.4, 0.53], [14.9, 0.52], [19.4, 0.47], [18.5, 0.37], [26, 0.35],
  [32.9, 0.32], [41, 0.32], [33.8, 0.22], [40, 0.21], [45.5, 0.18], [41, 0.11], [52, 0.1], [60, 0.08],
  [47.3, 0.03], [65, 0.02], [80.6, -0.01], [70, -0.05], [63, -0.06], [52.7, -0.13], [60, -0.16], [67, -0.18],
  [43.7, -0.23], [49, -0.33], [26.6, -0.36], [32, -0.47], [27, -0.5], [20.3, -0.57], [16.7, -0.67], [14.9, -0.75],
  [7.7, -0.83], [10, -0.88], [5.9, -0.93], [3.2, -0.98], [6.5, -1.02], [2, -1.1], [0.5, -1.19], [3, -1.24],
  [4.9, -1.3], [4, -1.4], [1.3, -1.56], [0.8, -1.7], [0.3, -1.85], [0.5, -2.0],
];

// ---------- styling ----------
const SANS = '"Liberation Sans", Arial, sans-serif';
const SERIF = '"Liberation Serif", "Times New Roman", serif';
const RED = 'rgb(255,40,25)';
const CYAN = 'rgb(40,172,228)';
const BLUE = 'rgb(25,30,235)';

const toPts = (arr: number[][]) => arr.map(([x, y]) => ({ x, y }));
const rowsToPts = (rows: number[][]) => rows.flatMap(([x, ...vs]) => vs.map((y) => ({ x, y })));
const steps = (start: number, end: number, step: number) => {
  const out: number[] = [];
  const n = Math.round((end - start) / step);
  for (let i = 0; i <= n; i++) out.push(+(start + i * step).toFixed(4));
  return out;
};
const fmt = (v: number) => (v < 0 ? '\u2212' + Math.abs(v) : String(v));
const edgeLabel = (v: number, min: number, max: number) => {
  const s = fmt(v);
  if (v === max) return ['', s];
  if (v === min) return [s, ''];
  return s;
};

const tsiMinor = steps(TSI_MIN, TSI_MAX, 0.1);
const dMinor = steps(D_MIN, D_MAX, 0.1);
const yearMinor = steps(1978.5, 1986.5, 0.5);
const nMinor = steps(0, 80, 10);
const topPanelXMinor = steps(1978.613, 1986.357, 0.5957);

const topFrame = {
  top: { major: topPanelXMajor, minor: topPanelXMinor, majLen: 8, minLen: 4.5 },
  bottom: { major: topPanelXMajor, minor: topPanelXMinor, majLen: 8, minLen: 4.5 },
  left: { major: tsiTicks, minor: tsiMinor, majLen: 11, minLen: 6 },
  right: { major: tsiTicks, minor: tsiMinor, majLen: 11, minLen: 6 },
};
const bottomFrame = {
  top: { major: topPanelXMajor, minor: topPanelXMinor, majLen: 8, minLen: 4.5 },
  bottom: { major: yearTicks, minor: yearMinor, majLen: 7, minLen: 3.5 },
  left: { major: dTicks, minor: dMinor, majLen: 11, minLen: 6 },
  right: { major: dTicks, minor: dMinor, majLen: 11, minLen: 6 },
};
const histFrame = {
  top: { major: nTicks, minor: nMinor, majLen: 6, minLen: 3.5 },
  bottom: { major: nTicks, minor: nMinor, majLen: 6, minLen: 3.5 },
  right: { major: dTicks, minor: dMinor, majLen: 11, minLen: 6 },
};

// IDL-style inward tick marks built as a segmented line dataset, so the chart's
// own scales place them. Tick lengths are given in pixels and converted with the
// plot-area size (W x H) that the layout padding fixes.
function tickDataset(spec: any, xmin: number, xmax: number, ymin: number, ymax: number, W: number, H: number) {
  const pts: any[] = [];
  const dx = (len: number) => (len / W) * (xmax - xmin);
  const dy = (len: number) => (len / H) * (ymax - ymin);
  const seg = (x1: number, y1: number, x2: number, y2: number) => {
    pts.push({ x: x1, y: y1 }, { x: x2, y: y2 }, { x: x2, y: null });
  };
  const sides = ['top', 'bottom', 'left', 'right'];
  sides.forEach((name) => {
    const s = spec[name];
    if (!s) return;
    const groups: any[] = [[s.minor, s.minLen], [s.major, s.majLen]];
    groups.forEach(([vals, len]) => {
      vals.forEach((v: number) => {
        if (name === 'bottom') seg(v, ymin, v, ymin + dy(len));
        else if (name === 'top') seg(v, ymax, v, ymax - dy(len));
        else if (name === 'left') seg(xmin, v, xmin + dx(len), v);
        else seg(xmax, v, xmax - dx(len), v);
      });
    });
  });
  return {
    data: pts, showLine: true, spanGaps: false, borderColor: '#000', borderWidth: 2.5,
    borderCapStyle: 'butt', pointRadius: 0, pointHoverRadius: 0, order: -1, clip: 6,
  };
}

function makeFramePlugin() {
  return {
    id: 'idlFrame',
    afterDraw(chart: any) {
      const ctx = chart.ctx;
      const a = chart.chartArea;
      ctx.save();
      ctx.strokeStyle = '#000';
      ctx.lineWidth = 3;
      ctx.strokeRect(a.left, a.top, a.right - a.left, a.bottom - a.top);
      ctx.restore();
    },
  };
}

function makeTextPlugin(texts: any[]) {
  return {
    id: 'idlText',
    afterDraw(chart: any) {
      const ctx = chart.ctx;
      for (let i = 0; i < texts.length; i++) {
        const t = texts[i];
        ctx.save();
        ctx.fillStyle = '#000';
        ctx.font = t.font;
        ctx.textAlign = t.align || 'left';
        ctx.textBaseline = 'alphabetic';
        ctx.translate(t.x, t.y);
        if (t.rotate) ctx.rotate(-Math.PI / 2);
        ctx.fillText(t.text, 0, 0);
        ctx.restore();
      }
    },
  };
}

const hiddenGrid = { display: false, drawTicks: false };
const hiddenBorder = { display: false };

function dots(rows: number[][], r: number, color: string, order: number) {
  return { data: rowsToPts(rows), pointRadius: r, pointBackgroundColor: color, backgroundColor: color, pointBorderWidth: 0, borderWidth: 0, order };
}

function topConfig(): any {
  return {
    type: 'scatter',
    data: {
      datasets: [
        tickDataset(topFrame, X_MIN, X_MAX, TSI_MIN, TSI_MAX, 585, 387),
        { data: toPts(topCyanLine), showLine: true, borderColor: CYAN, borderWidth: 6, borderDash: [12, 8], pointRadius: 0, order: 0 },
        { data: toPts(topBlackLine), showLine: true, borderColor: '#000', borderWidth: 4, pointRadius: 0, order: 1 },
        dots(topBlackRows, 1.3, '#000', 2),
        dots(topRedRows, 1.3, RED, 3),
      ],
    },
    options: {
      responsive: false,
      animation: false,
      events: [],
      layout: { padding: { left: 0, top: 61, right: 200, bottom: 363 } },
      plugins: { legend: { display: false }, tooltip: { enabled: false } },
      scales: {
        x: {
          type: 'linear', min: X_MIN, max: X_MAX, grid: hiddenGrid, border: hiddenBorder,
          ticks: { display: false },
          afterFit: (s: any) => { s.height = 0; },
        },
        y: {
          type: 'linear', min: TSI_MIN, max: TSI_MAX, grid: hiddenGrid, border: hiddenBorder,
          afterBuildTicks: (s: any) => { s.ticks = tsiTicks.map((v) => ({ value: v })); },
          ticks: {
            color: '#000', padding: 11, font: { family: SANS, size: 30, lineHeight: '20px' },
            callback: (v: number) => edgeLabel(v, TSI_MIN, TSI_MAX),
          },
          afterFit: (s: any) => { s.width = 156; },
        },
      },
    },
    plugins: [
      makeFramePlugin(),
      makeTextPlugin([
        { text: 'Mt Wilson', x: 446, y: 41, font: '43px "Open Sans", ' + SANS, align: 'center' },
        { text: 'MW', x: 206, y: 108, font: '38px ' + SERIF },
        { text: '21', x: 308, y: 410, font: '32px ' + SANS },
        { text: 'TSI (W/m\u00B2)', x: 43, y: 250, font: '31px ' + SANS, align: 'center', rotate: true },
      ]),
    ],
  };
}

function bottomConfig(): any {
  return {
    type: 'scatter',
    data: {
      datasets: [
        tickDataset(bottomFrame, X_MIN, X_MAX, D_MIN, D_MAX, 585, 257),
        { data: zeroLineYears.map((x) => ({ x, y: 0 })), showLine: true, borderColor: '#000', borderWidth: 3, borderDash: [3, 5], pointRadius: 0, order: 0 },
        { data: toPts(bottomTrend), showLine: true, borderColor: BLUE, borderWidth: 4.5, borderDash: [15, 16.7], pointRadius: 0, order: 1 },
        { data: toPts(bottomCyanLine), showLine: true, borderColor: CYAN, borderWidth: 5, pointRadius: 0, order: 2 },
        dots(bottomRedRows, 1.0, RED, 3),
      ],
    },
    options: {
      responsive: false,
      animation: false,
      events: [],
      layout: { padding: { left: 0, top: 469, right: 200, bottom: 0 } },
      plugins: { legend: { display: false }, tooltip: { enabled: false } },
      scales: {
        x: {
          type: 'linear', min: X_MIN, max: X_MAX, grid: hiddenGrid, border: hiddenBorder,
          afterBuildTicks: (s: any) => { s.ticks = yearTicks.map((v) => ({ value: v })); },
          ticks: { color: '#000', padding: 17, maxRotation: 0, font: { family: SANS, size: 28, lineHeight: 1.2 }, callback: (v: number) => fmt(v) },
          afterFit: (s: any) => { s.height = 85; },
        },
        y: {
          type: 'linear', min: D_MIN, max: D_MAX, grid: hiddenGrid, border: hiddenBorder,
          afterBuildTicks: (s: any) => { s.ticks = dTicks.map((v) => ({ value: v })); },
          ticks: {
            color: '#000', padding: 11, font: { family: SANS, size: 29, lineHeight: '18px' },
            callback: (v: number) => edgeLabel(v, D_MIN, D_MAX),
          },
          afterFit: (s: any) => { s.width = 156; },
        },
      },
    },
    plugins: [
      makeFramePlugin(),
      makeTextPlugin([
        { text: 'MW', x: 206, y: 527, font: '38px ' + SERIF },
        { text: '21', x: 283, y: 714, font: '32px ' + SANS },
        { text: '\u0394TSI (W/m\u00B2)', x: 83, y: 610, font: '33px ' + SANS, align: 'center', rotate: true },
        { text: 'Year', x: 400, y: 806, font: '31px ' + SANS, align: 'center' },
      ]),
    ],
  };
}

function histConfig(): any {
  return {
    type: 'scatter',
    data: {
      datasets: [
        tickDataset(histFrame, N_MIN, N_MAX, D_MIN, D_MAX, 152, 257),
        { data: zeroLineN.map((x) => ({ x, y: 0 })), showLine: true, borderColor: '#000', borderWidth: 3, borderDash: [3, 5], pointRadius: 0, order: 0 },
        { data: toPts(histProfile), showLine: true, borderColor: 'rgb(255,30,15)', borderWidth: 2.5, pointRadius: 0, order: 1 },
      ],
    },
    options: {
      responsive: false,
      animation: false,
      events: [],
      layout: { padding: { left: 741, top: 469, right: 0, bottom: 0 } },
      plugins: { legend: { display: false }, tooltip: { enabled: false } },
      scales: {
        x: {
          type: 'linear', min: N_MIN, max: N_MAX, grid: hiddenGrid, border: hiddenBorder,
          afterBuildTicks: (s: any) => { s.ticks = nTicks.map((v) => ({ value: v })); },
          ticks: { color: '#000', padding: 17, maxRotation: 0, font: { family: SANS, size: 28, lineHeight: 1.2 }, callback: (v: number) => fmt(v) },
          afterFit: (s: any) => { s.height = 85; },
        },
        y: {
          type: 'linear', position: 'right', min: D_MIN, max: D_MAX, grid: hiddenGrid, border: hiddenBorder,
          afterBuildTicks: (s: any) => { s.ticks = dTicks.map((v) => ({ value: v })); },
          ticks: {
            color: '#000', padding: 10, font: { family: SANS, size: 29, lineHeight: '20px' },
            callback: (v: number) => edgeLabel(v, D_MIN, D_MAX),
          },
          afterFit: (s: any) => { s.width = 48; },
        },
      },
    },
    plugins: [
      makeFramePlugin(),
      makeTextPlugin([{ text: 'N', x: 818, y: 804, font: '31px ' + SANS, align: 'center' }]),
    ],
  };
}

const canvasStyle: React.CSSProperties = { position: 'absolute', left: 0, top: 0, width: 941, height: 811 };

export default function App() {
  const topRef = useRef<HTMLCanvasElement>(null);
  const botRef = useRef<HTMLCanvasElement>(null);
  const histRef = useRef<HTMLCanvasElement>(null);

  useEffect(() => {
    const charts: Chart[] = [];
    if (topRef.current) charts.push(new Chart(topRef.current, topConfig()));
    if (botRef.current) charts.push(new Chart(botRef.current, bottomConfig()));
    if (histRef.current) charts.push(new Chart(histRef.current, histConfig()));
    return () => charts.forEach((c) => c.destroy());
  }, []);

  return (
    <div style={{ position: 'fixed', left: 0, top: 0, width: 941, height: 811, background: '#fff' }}>
      <canvas ref={topRef} width={941} height={811} style={canvasStyle} />
      <canvas ref={botRef} width={941} height={811} style={canvasStyle} />
      <canvas ref={histRef} width={941} height={811} style={canvasStyle} />
    </div>
  );
}
